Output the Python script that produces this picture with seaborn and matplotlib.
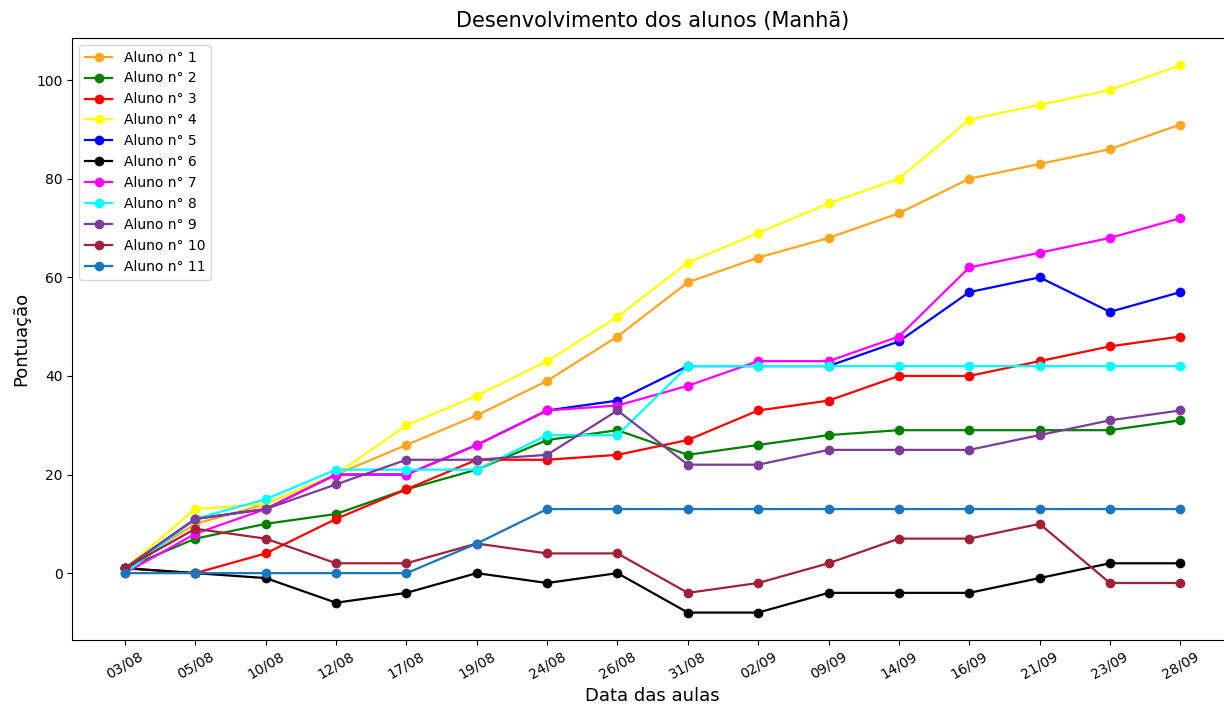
import numpy as np
import pandas as pd
import matplotlib
matplotlib.use("Agg")
import matplotlib.pyplot as plt
import seaborn as sns

datas = ["03/08", "05/08", "10/08", "12/08", "17/08", "19/08", "24/08", "26/08",
         "31/08", "02/09", "09/09", "14/09", "16/09", "21/09", "23/09", "28/09"]

aluno1 = [1, 10, 14, 20, 26, 32, 39, 48, 59, 64, 68, 73, 80, 83, 86, 91]
aluno2 = [1, 7, 10, 12, 17, 21, 27, 29, 24, 26, 28, 29, 29, 29, 29, 31]
aluno3 = [1, 0, 4, 11, 17, 23, 23, 24, 27, 33, 35, 40, 40, 43, 46, 48]
aluno4 = [1, 13, 14, 20, 30, 36, 43, 52, 63, 69, 75, 80, 92, 95, 98, 103]
aluno5 = [1, 11, 13, 20, 20, 26, 33, 35, 42, 42, 42, 47, 57, 60, 53, 57]
aluno6 = [1, 0, -1, -6, -4, 0, -2, 0, -8, -8, -4, -4, -4, -1, 2, 2]
aluno7 = [0, 8, 13, 20, 20, 26, 33, 34, 38, 43, 43, 48, 62, 65, 68, 72]
aluno8 = [0, 11, 15, 21, 21, 21, 28, 28, 42, 42, 42, 42, 42, 42, 42, 42]
aluno9 = [1, 11, 13, 18, 23, 23, 24, 33, 22, 22, 25, 25, 25, 28, 31, 33]
aluno10 = [1, 9, 7, 2, 2, 6, 4, 4, -4, -2, 2, 7, 7, 10, -2, -2]
aluno11 = [0, 0, 0, 0, 0, 6, 13, 13, 13, 13, 13, 13, 13, 13, 13, 13]

series = [aluno1, aluno2, aluno3, aluno4, aluno5, aluno6,
          aluno7, aluno8, aluno9, aluno10, aluno11]
nomes = ["Aluno n° %d" % (i + 1) for i in range(len(series))]
cores = ["#ffa51f", "green", "red", "yellow", "blue", "black",
         "magenta", "cyan", "#7d3c98", "#a2203a", "#1a75bc"]

df = pd.DataFrame({
    "data": datas * len(series),
    "pontos": np.concatenate(series),
    "aluno": np.repeat(nomes, len(datas)),
})

fig, ax = plt.subplots(figsize=(12.24, 7.04), dpi=100)
sns.lineplot(data=df, x="data", y="pontos", hue="aluno", hue_order=nomes,
             palette=cores, marker="o", markersize=7, markeredgewidth=0,
             linewidth=1.6, sort=False, ax=ax)

ax.set_title("Desenvolvimento dos alunos (Manhã)", fontsize=15, pad=8)
ax.set_xlabel("Data das aulas", fontsize=13)
ax.set_ylabel("Pontuação", fontsize=13)
ax.tick_params(axis="x", rotation=30)
ax.legend(loc="upper left", fontsize=10)

# o gráfico original está cortado à direita
plt.subplots_adjust(left=0.059, right=1.0074, top=0.946, bottom=0.091)
plt.savefig("out.png")
